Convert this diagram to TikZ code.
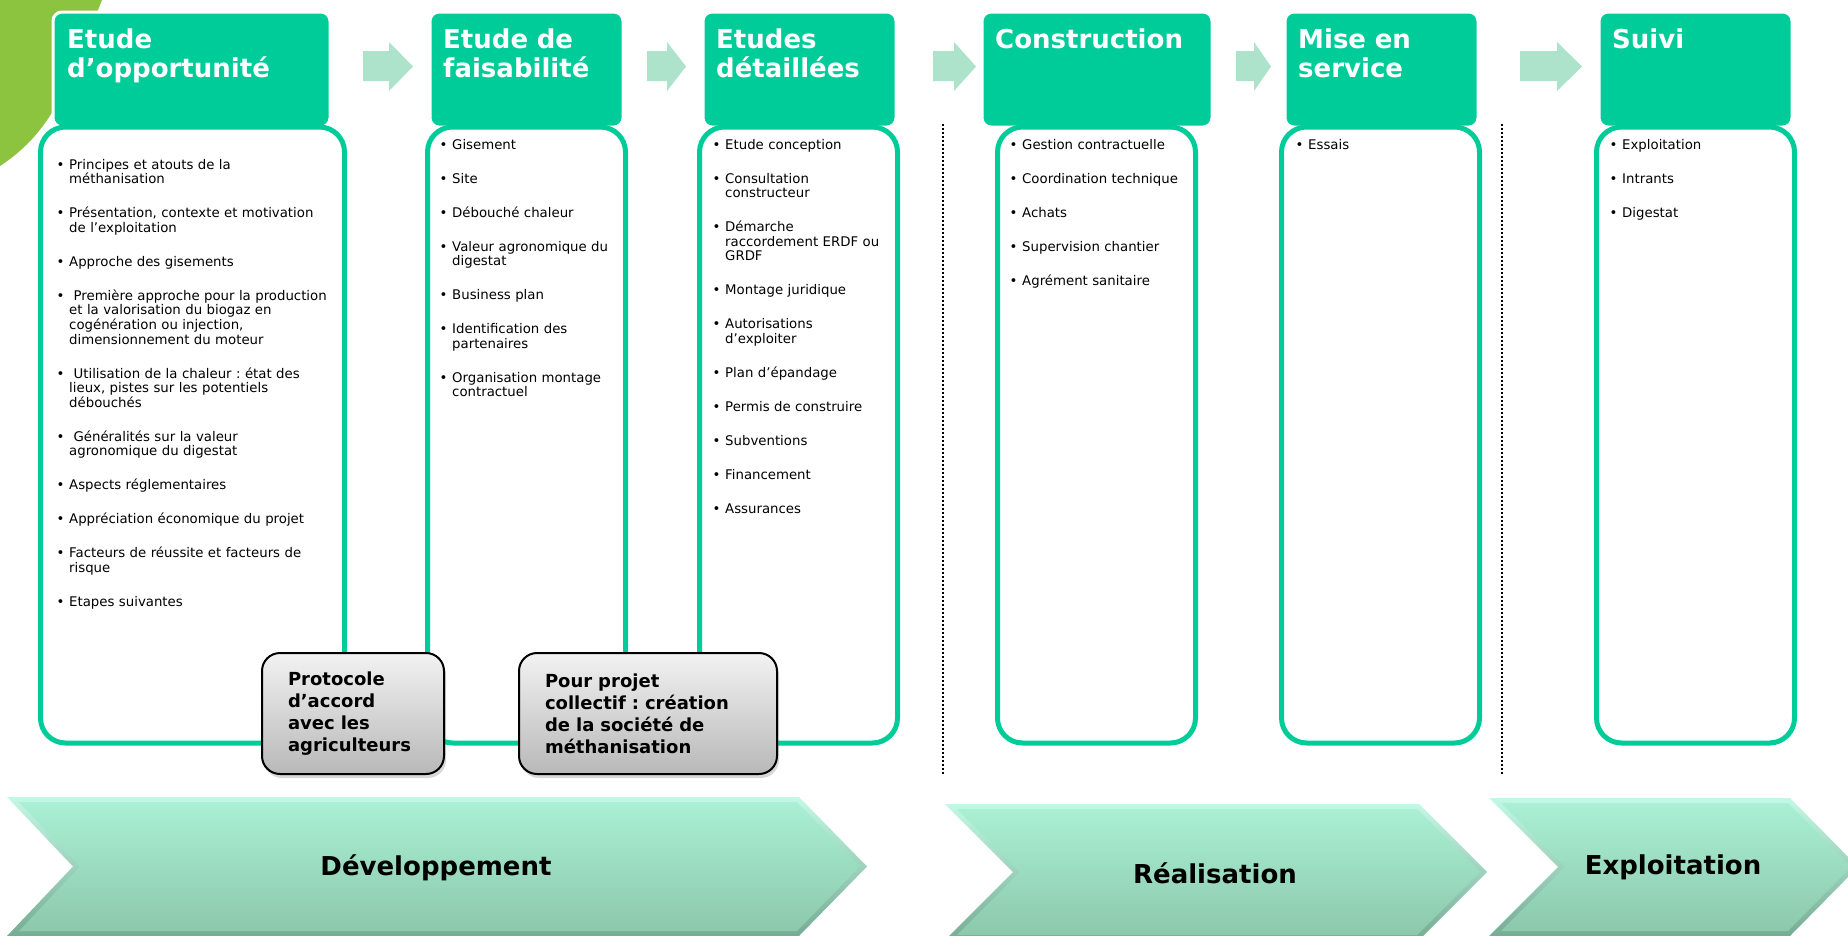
\documentclass[tikz,border=0pt]{standalone}
\usepackage{fontspec}
\setmainfont{DejaVu Sans}
\usetikzlibrary{shadows}
\frenchspacing

\definecolor{headgreen}{RGB}{0,204,153}
\definecolor{arrowgreen}{RGB}{172,227,202}
\definecolor{leafgreen}{RGB}{141,196,63}
\definecolor{greytop}{RGB}{242,242,242}
\definecolor{greybot}{RGB}{184,184,184}
\definecolor{chevtop}{RGB}{170,240,212}
\definecolor{chevbot}{RGB}{140,200,172}
\definecolor{bevtop}{RGB}{195,248,228}
\definecolor{bevbot}{RGB}{118,172,148}

% one bullet item, lines broken by \newline
\newcommand{\itm}[1]{\noindent\hangindent=12.5pt\hangafter=1\makebox[12.5pt][l]{\textbullet}#1\par\vspace{19.4pt}}

\begin{document}
\begin{tikzpicture}[x=1pt, y=-1pt,
    headbox/.style={draw=white, line width=3pt, fill=headgreen, rounded corners=9pt, anchor=north west, inner sep=0pt, outer sep=0pt},
    bodybox/.style={draw=headgreen, line width=5pt, fill=white, rounded corners=25pt, anchor=north west, inner sep=0pt, outer sep=0pt},
    headtxt/.style={anchor=base west, inner sep=0pt, text width=270pt, align=left, text=white, font=\bfseries\fontsize{26}{29}\selectfont},
    itemtxt/.style={anchor=base west, inner sep=0pt, align=left, font=\fontsize{13.3}{14.6}\selectfont},
    note/.style={draw=black, line width=2pt, rounded corners=18pt, top color=greytop, bottom color=greybot, inner xsep=26pt, inner ysep=0pt, minimum height=121pt, align=left, font=\bfseries\fontsize{18}{22}\selectfont, drop shadow={shadow xshift=2pt, shadow yshift=-4pt, opacity=0.3}},
    phase/.style={inner sep=0pt, font=\bfseries\fontsize{26}{30}\selectfont},
    dotline/.style={line width=2pt, dash pattern=on 2pt off 2pt},
    blockarrow/.style={fill=arrowgreen}]

\useasboundingbox (0,0) rectangle (1848,935);
\clip (0,0) rectangle (1848,935);
\fill[white] (0,0) rectangle (1848,935);

% corner leaf
\fill[leafgreen] (0,0) -- (102,0) .. controls (70,80) and (55,130) .. (0,166) -- cycle;

% step headers
\foreach \n/\xl/\xr in {1/53/330, 2/430/623, 3/703/896, 4/982/1212, 5/1285/1478, 6/1599/1792} {
    \pgfmathsetmacro\w{\xr-\xl}
    \node[headbox, minimum width=\w pt, minimum height=115pt] (h\n) at (\xl,12) {};
}

% arrows between the headers
\foreach \xa/\xh/\xt in {363/389/413, 647/667/686, 933/954/976, 1236/1254/1271, 1520/1557/1582}
    \fill[blockarrow] (\xa,51) -- (\xh,51) -- (\xh,42) -- (\xt,66.5) -- (\xh,91) -- (\xh,81) -- (\xa,81) -- cycle;

% item boxes
\foreach \n/\xl/\xr in {1/38/347, 2/425/628, 3/697/900, 4/995/1198, 5/1279/1482, 6/1594/1797} {
    \pgfmathsetmacro\w{\xr-\xl-5}
    \node[bodybox, minimum width=\w pt, minimum height=616pt] (b\n) at (\xl+2.5,127) {};
}

\node[headtxt] (ht1) at ([shift={(14,36)}]h1.north west) {Etude\\d’opportunité};
\node[headtxt] (ht2) at ([shift={(13,36)}]h2.north west) {Etude de\\faisabilité};
\node[headtxt] (ht3) at ([shift={(13,36)}]h3.north west) {Etudes\\détaillées};
\node[headtxt] (ht4) at ([shift={(13,36)}]h4.north west) {Construction};
\node[headtxt] (ht5) at ([shift={(13,36)}]h5.north west) {Mise en\\service};
\node[headtxt] (ht6) at ([shift={(13,36)}]h6.north west) {Suivi};

\node[itemtxt, text width=300pt] (it1) at (56.5,169) {%
    \itm{Principes et atouts de la\newline méthanisation}
    \itm{Présentation, contexte et motivation\newline de l’exploitation}
    \itm{Approche des gisements}
    \itm{\ Première approche pour la production\newline et la valorisation du biogaz en\newline cogénération ou injection,\newline dimensionnement du moteur}
    \itm{\ Utilisation de la chaleur : état des\newline lieux, pistes sur les potentiels\newline débouchés}
    \itm{\ Généralités sur la valeur\newline agronomique du digestat}
    \itm{Aspects réglementaires}
    \itm{Appréciation économique du projet}
    \itm{Facteurs de réussite et facteurs de\newline risque}
    \itm{Etapes suivantes}};
\node[itemtxt, text width=230pt] (it2) at (439.5,149) {%
    \itm{Gisement}
    \itm{Site}
    \itm{Débouché chaleur}
    \itm{Valeur agronomique du\newline digestat}
    \itm{Business plan}
    \itm{Identification des\newline partenaires}
    \itm{Organisation montage\newline contractuel}};
\node[itemtxt, text width=230pt] (it3) at (712.5,149) {%
    \itm{Etude conception}
    \itm{Consultation\newline constructeur}
    \itm{Démarche\newline raccordement ERDF ou\newline GRDF}
    \itm{Montage juridique}
    \itm{Autorisations\newline d’exploiter}
    \itm{Plan d’épandage}
    \itm{Permis de construire}
    \itm{Subventions}
    \itm{Financement}
    \itm{Assurances}};
\node[itemtxt, text width=230pt] (it4) at (1009.5,149) {%
    \itm{Gestion contractuelle}
    \itm{Coordination technique}
    \itm{Achats}
    \itm{Supervision chantier}
    \itm{Agrément sanitaire}};
\node[itemtxt, text width=230pt] (it5) at (1295.5,149) {\itm{Essais}};
\node[itemtxt, text width=230pt] (it6) at (1609.5,149) {%
    \itm{Exploitation}
    \itm{Intrants}
    \itm{Digestat}};

% milestones
\node[note, text width=130pt] (p1) at (353,713.5) {Protocole\\d’accord\\avec les\\agriculteurs};
\node[note, text width=206pt] (p2) at (648,713.5) {Pour projet\\collectif : création\\de la société de\\méthanisation};

% phase separators
\draw[dotline] (943,124) -- (943,774);
\draw[dotline] (1502,124) -- (1502,774);

% phase chevrons
\foreach \xa/\xn/\xr/\xt/\yt/\yb in {7/73/799/867/797/936, 945/1013/1419/1487/804/940, 1489/1558/1790/1858/798/936} {
    \pgfmathsetmacro\ym{(\yt+\yb)/2}
    \shade[top color=bevtop, bottom color=bevbot] (\xa,\yt) -- (\xr,\yt) -- (\xt,\ym) -- (\xr,\yb) -- (\xa,\yb) -- (\xn,\ym) -- cycle;
    \shade[top color=chevtop, bottom color=chevbot] (\xa+12,\yt+5) -- (\xr-2,\yt+5) -- (\xt-7,\ym) -- (\xr-2,\yb-5) -- (\xa+12,\yb-5) -- (\xn+7,\ym) -- cycle;
}
\node[phase] (ph1) at (436,868) {Développement};
\node[phase] (ph2) at (1215,873) {Réalisation};
\node[phase] (ph3) at (1673,867) {Exploitation};

\end{tikzpicture}
\end{document}
